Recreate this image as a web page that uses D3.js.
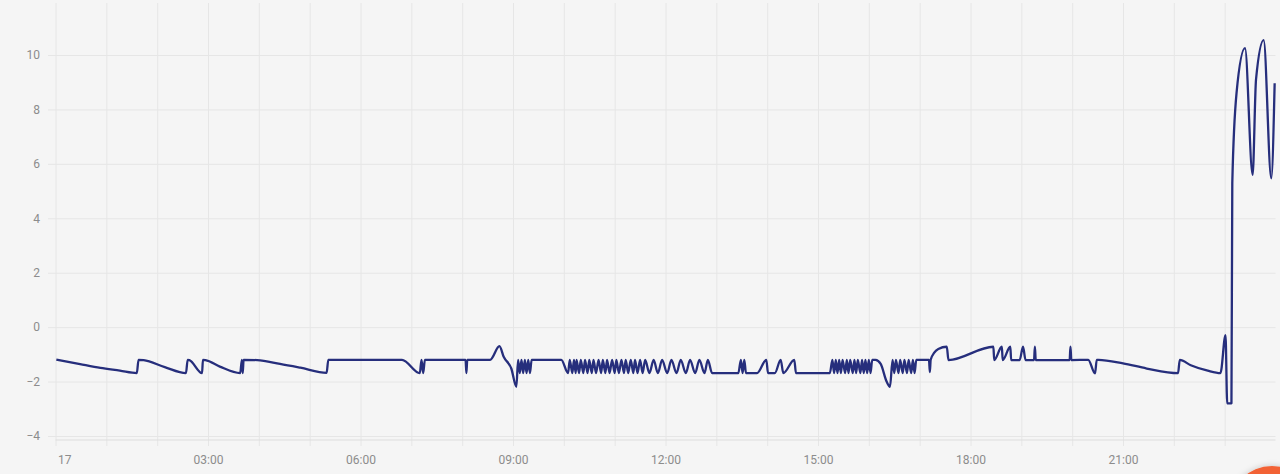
<!DOCTYPE html>
<html>
<head>
<meta charset="utf-8">
<script src="https://cdn.jsdelivr.net/npm/d3@7"></script>
<style>
  html, body { margin: 0; padding: 0; background: #f5f5f5; }
  #chart { display: block; }
  .grid line { stroke: #e6e6e6; stroke-width: 1; }
  .grid path { display: none; }
  .grid text { fill: #8c8c8c; font-family: Roboto, "Noto Sans", sans-serif; font-size: 12px; }
</style>
</head>
<body>
<svg id="chart" width="1280" height="474"></svg>
<script>
var day = '2024-01-17';

// time of reading (HH:MM) and value
var times = [
  '00:01','00:29','00:53','01:16','01:36','01:38','01:44','02:09','02:34','02:36',
  '02:38','02:53','02:54','02:57','03:14','03:38','03:40','03:41','03:42','03:58',
  '04:25','04:49','05:20','05:22','06:49','07:10','07:12','07:14','07:16','08:04',
  '08:05','08:06','08:33','08:44','08:49','08:58','09:04','09:06','09:08','09:10',
  '09:12','09:14','09:16','09:18','09:20','09:22','09:57','10:05','10:07','10:10',
  '10:12','10:14','10:15','10:18','10:20','10:23','10:25','10:28','10:30','10:33',
  '10:35','10:38','10:41','10:44','10:46','10:49','10:51','10:54','10:57','11:00',
  '11:02','11:05','11:08','11:11','11:13','11:16','11:19','11:22','11:24','11:27',
  '11:30','11:33','11:36','11:41','11:46','11:51','11:56','12:02','12:07','12:13',
  '12:18','12:24','12:29','12:35','12:40','12:46','12:50','12:55','13:26','13:29',
  '13:31','13:33','13:35','13:48','13:59','14:01','14:09','14:16','14:19','14:32',
  '14:34','15:14','15:17','15:19','15:21','15:23','15:25','15:27','15:29','15:32',
  '15:34','15:36','15:38','15:41','15:43','15:45','15:47','15:50','15:52','15:54',
  '15:56','15:58','16:00','16:02','16:04','16:08','16:14','16:21','16:25','16:28',
  '16:30','16:32','16:35','16:37','16:40','16:42','16:45','16:47','16:50','16:52',
  '16:54','16:56','17:11','17:12','17:13','17:17','17:22','17:32','17:34','18:27',
  '18:28','18:37','18:38','18:47','18:48','18:58','19:02','19:05','19:15','19:16',
  '19:17','19:57','19:58','19:59','20:19','20:27','20:29','20:31','21:00','21:28',
  '22:05','22:07','22:20','22:40','22:55','23:01','23:03','23:08','23:09','23:14',
  '23:24','23:33','23:37','23:46','23:55','23:59'
];
var values = [
  -1.19,-1.36,-1.50,-1.60,-1.69,-1.20,-1.21,-1.47,-1.69,-1.20,
  -1.21,-1.69,-1.20,-1.21,-1.45,-1.69,-1.20,-1.69,-1.20,-1.21,
  -1.35,-1.49,-1.68,-1.20,-1.20,-1.69,-1.20,-1.69,-1.20,-1.20,
  -1.69,-1.20,-1.20,-0.70,-1.09,-1.52,-2.19,-1.20,-1.69,-1.20,
  -1.69,-1.20,-1.69,-1.20,-1.69,-1.20,-1.20,-1.69,-1.20,-1.69,
  -1.20,-1.69,-1.20,-1.69,-1.20,-1.69,-1.20,-1.69,-1.20,-1.69,
  -1.20,-1.69,-1.20,-1.69,-1.20,-1.69,-1.20,-1.69,-1.20,-1.69,
  -1.20,-1.69,-1.20,-1.69,-1.20,-1.69,-1.20,-1.69,-1.20,-1.69,
  -1.20,-1.69,-1.20,-1.69,-1.20,-1.69,-1.20,-1.69,-1.20,-1.69,
  -1.20,-1.69,-1.20,-1.69,-1.20,-1.69,-1.20,-1.69,-1.69,-1.20,
  -1.69,-1.20,-1.69,-1.69,-1.20,-1.69,-1.69,-1.20,-1.69,-1.20,
  -1.69,-1.69,-1.20,-1.69,-1.20,-1.69,-1.20,-1.69,-1.20,-1.69,
  -1.20,-1.69,-1.20,-1.69,-1.20,-1.69,-1.20,-1.69,-1.20,-1.69,
  -1.20,-1.69,-1.20,-1.69,-1.20,-1.20,-1.35,-2.00,-2.19,-1.20,
  -1.69,-1.20,-1.69,-1.20,-1.69,-1.20,-1.69,-1.20,-1.69,-1.20,
  -1.69,-1.20,-1.20,-1.65,-1.20,-0.95,-0.80,-0.72,-1.21,-0.72,
  -1.21,-0.72,-1.21,-0.72,-1.21,-1.21,-0.72,-1.21,-1.21,-0.72,
  -1.21,-1.21,-0.72,-1.21,-1.20,-1.70,-1.20,-1.20,-1.33,-1.52,
  -1.69,-1.20,-1.40,-1.60,-1.69,-0.29,-2.80,-2.80,5.30,8.60,
  10.25,5.60,9.10,10.55,5.47,8.96
];

var yTicks = [-4, -2, 0, 2, 4, 6, 8, 10];
var firstLabel = '17';

var svg = d3.select('#chart');
var plotLeft = 55.5, plotRight = 1275.5, plotTop = 3, plotBottom = 446;

var parse = d3.timeParse('%Y-%m-%d %H:%M');
var data = times.map(function(t, i) { return { t: parse(day + ' ' + t), v: values[i] }; });

var start = parse(day + ' 00:00');
var end = d3.timeDay.offset(start, 1);

var x = d3.scaleTime().domain([start, end]).range([plotLeft, plotRight]);
var y = d3.scaleLinear().domain([-4, 10]).range([436, 55]);

// horizontal grid + y labels
svg.append('g')
  .attr('class', 'grid')
  .attr('transform', 'translate(48,0)')
  .call(d3.axisLeft(y)
    .tickValues(yTicks)
    .tickSize(-(plotRight - 48))
    .tickPadding(8)
    .tickFormat(d3.format('d')));

// vertical grid + x labels
var hours = d3.timeHour.range(start, end);
var gx = svg.append('g')
  .attr('class', 'grid')
  .attr('transform', 'translate(0,' + plotBottom + ')')
  .call(d3.axisBottom(x)
    .tickValues(hours)
    .tickSize(-(plotBottom - plotTop))
    .tickPadding(9)
    .tickFormat(function(d) {
      var h = d.getHours();
      if (h === 0) return firstLabel;
      return h % 3 === 0 ? d3.timeFormat('%H:%M')(d) : '';
    }));
gx.selectAll('.tick')
  .filter(function(d) { return d.getHours() === 0; })
  .select('text')
  .attr('text-anchor', 'start')
  .attr('x', 2);

// bottom axis line
svg.append('line')
  .attr('x1', plotLeft).attr('x2', plotRight)
  .attr('y1', 440).attr('y2', 440)
  .attr('stroke', '#dedede')
  .attr('stroke-width', 1.2);

var line = d3.line()
  .x(function(d) { return x(d.t); })
  .y(function(d) { return y(d.v); })
  .curve(d3.curveMonotoneX);

svg.append('path')
  .datum(data)
  .attr('fill', 'none')
  .attr('stroke', '#262e7c')
  .attr('stroke-width', 2.3)
  .attr('stroke-linejoin', 'round')
  .attr('d', line);

// floating button peeking in at bottom right
var defs = svg.append('defs');
var f = defs.append('filter').attr('id', 'shadow').attr('x', '-50%').attr('y', '-50%').attr('width', '200%').attr('height', '200%');
f.append('feDropShadow').attr('dx', 0).attr('dy', 0).attr('stdDeviation', 3).attr('flood-color', '#000').attr('flood-opacity', 0.2);
svg.append('circle')
  .attr('cx', 1272).attr('cy', 509).attr('r', 43)
  .attr('fill', '#f26236')
  .attr('filter', 'url(#shadow)');
</script>
</body>
</html>
